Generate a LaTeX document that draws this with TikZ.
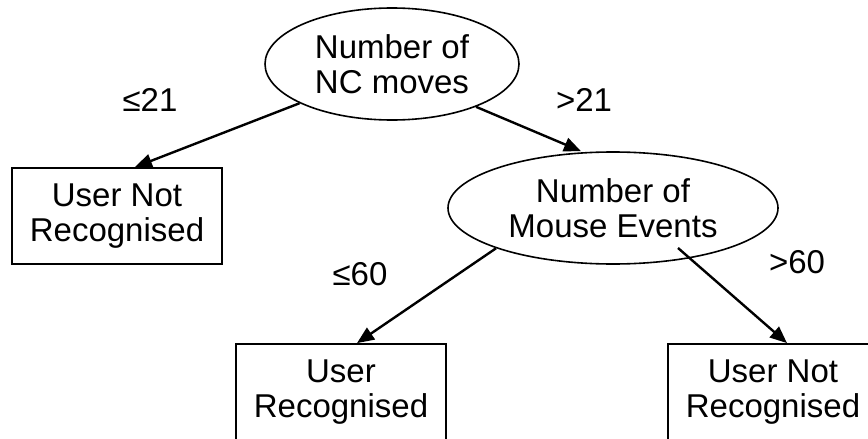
\documentclass[tikz,border=0pt]{standalone}
\usepackage{fontspec}
\setmainfont{Liberation Sans}
\usetikzlibrary{shapes.geometric,arrows.meta}
\begin{document}
\begin{tikzpicture}[x=1pt,y=-1pt,
  every node/.style={font=\fontsize{33}{35}\selectfont, align=center},
  splitnode/.style={draw, ellipse, line width=1.6pt, inner sep=0pt},
  leafbox/.style={draw, rectangle, line width=1.8pt, minimum width=210pt,
                  minimum height=96pt, inner sep=0pt},
  branch/.style={line width=2.4pt, -{Triangle[length=17pt,width=14pt]}},
  condlabel/.style={inner sep=0pt}]
  \useasboundingbox (0,0) rectangle (868,439);
  \clip (0,0) rectangle (868,439);

  % decision nodes
  \node[splitnode, minimum width=254pt, minimum height=112pt] (nc) at (392,64)
    {Number of\\NC moves};
  \node[splitnode, minimum width=330pt, minimum height=112pt] (mouse) at (613,208)
    {Number of\\Mouse Events};

  % outcomes
  \node[leafbox] (leafA) at (117,216) {User Not\\Recognised};
  \node[leafbox] (leafB) at (341,392) {User\\Recognised};
  \node[leafbox] (leafC) at (773,392) {User Not\\Recognised};

  % branches
  \coordinate (mouseR) at (678,248);
  \draw[branch] (nc.203) -- ([xshift=18pt]leafA.north);
  \draw[branch] (nc.333) -- ([xshift=-32pt]mouse.north);
  \draw[branch] (mouse.199) -- ([xshift=16pt]leafB.north);
  \draw[branch] (mouseR) -- ([xshift=14pt]leafC.north);

  % branch conditions
  \node[condlabel] (c1) at (150,100) {≤21};
  \node[condlabel] (c2) at (584,100) {>21};
  \node[condlabel] (c3) at (360,274) {≤60};
  \node[condlabel] (c4) at (797,262) {>60};
\end{tikzpicture}
\end{document}
